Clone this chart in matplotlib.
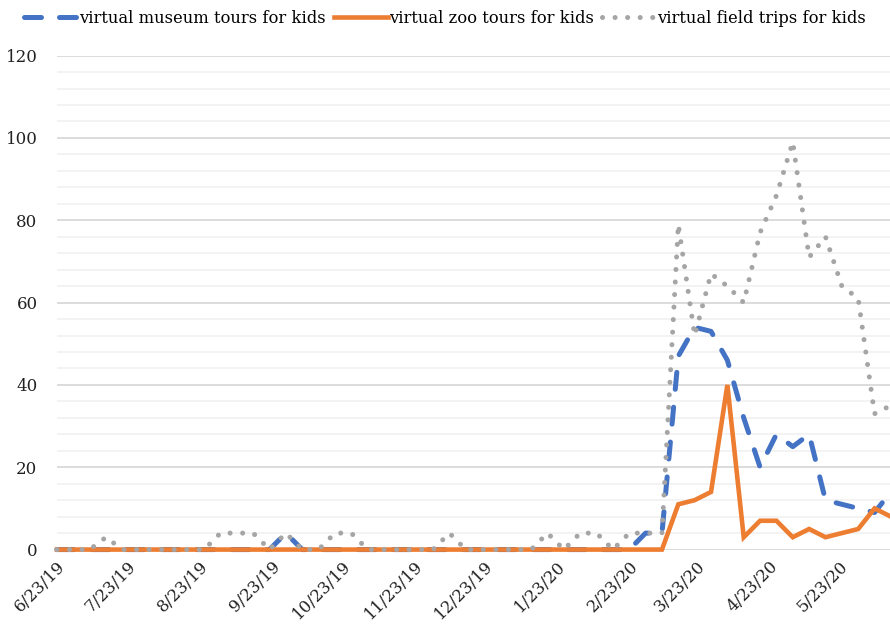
import matplotlib
matplotlib.use("Agg")
import matplotlib.pyplot as plt
import numpy as np
import pandas as pd

# weekly Google Trends style data, 6/23/19 .. 6/14/20
weeks = pd.date_range("2019-06-23", periods=52, freq="7D")

museum = [0, 0, 0, 0, 0, 0, 0, 0, 0, 0,
          0, 0, 0, 0, 4, 0, 0, 0, 0, 0,
          0, 0, 0, 0, 0, 0, 0, 0, 0, 0,
          0, 0, 0, 0, 0, 0, 4, 4, 47, 54,
          53, 46, 32, 20, 28, 25, 28, 12, 11, 10,
          9, 14]
zoo = [0, 0, 0, 0, 0, 0, 0, 0, 0, 0,
       0, 0, 0, 0, 0, 0, 0, 0, 0, 0,
       0, 0, 0, 0, 0, 0, 0, 0, 0, 0,
       0, 0, 0, 0, 0, 0, 0, 0, 11, 12,
       14, 40, 3, 7, 7, 3, 5, 3, 4, 5,
       10, 8]
field_trips = [0, 0, 0, 3, 0, 0, 0, 0, 0, 0,
               4, 4, 4, 0, 4, 0, 0, 4, 4, 0,
               0, 0, 0, 0, 4, 0, 0, 0, 0, 0,
               4, 0, 4, 4, 0, 4, 4, 4, 79, 52,
               67, 64, 60, 77, 86, 99, 71, 76, 64, 61,
               33, 35]

tick_labels = ["6/23/19", "7/23/19", "8/23/19", "9/23/19", "10/23/19", "11/23/19",
               "12/23/19", "1/23/20", "2/23/20", "3/23/20", "4/23/20", "5/23/20"]
tick_dates = pd.to_datetime(tick_labels, format="%m/%d/%y")

plt.rcParams["font.family"] = ["DejaVu Serif"]

fig = plt.figure(figsize=(8.9, 6.33), dpi=100)
ax = fig.add_axes([0.064, 0.1318, 0.937, 0.7804])

ax.plot(weeks, museum, color="#4472C4", lw=3.6, linestyle=(0, (3.4, 3.6)),
        dash_capstyle="round", label="virtual museum tours for kids",
        zorder=3, clip_on=False)
ax.plot(weeks, zoo, color="#ED7D31", lw=3.3, solid_joinstyle="miter",
        label="virtual zoo tours for kids", zorder=4, clip_on=False)
ax.plot(weeks, field_trips, color="#A5A5A5", lw=3.6, linestyle=(0, (0.01, 2.5)),
        dash_capstyle="round", label="virtual field trips for kids",
        zorder=5, clip_on=False)

ax.set_ylim(0, 120)
ax.set_xlim(weeks[0], weeks[-1])
ax.set_yticks(np.arange(0, 121, 20))
ax.set_yticks(np.arange(0, 121, 4), minor=True)
ax.grid(axis="y", which="major", color="#d9d9d9", lw=1.3, zorder=0)
ax.grid(axis="y", which="minor", color="#f0f0f0", lw=1.1, zorder=0)
ax.set_axisbelow(True)

ax.set_xticks(tick_dates)
ax.set_xticklabels(tick_labels, rotation=45, ha="right", va="top",
                   rotation_mode="anchor")
ax.tick_params(axis="both", which="both", length=0, labelsize=12, colors="#222222")
ax.tick_params(axis="y", pad=14)
ax.tick_params(axis="x", pad=6)
for s in ax.spines.values():
    s.set_visible(False)

fig.legend(loc="upper center", bbox_to_anchor=(0.5, 1.008), ncol=3, frameon=False,
           fontsize=11.8, handlelength=3.3, handletextpad=0.05, columnspacing=0.5)

fig.savefig("out.png", dpi=100)
